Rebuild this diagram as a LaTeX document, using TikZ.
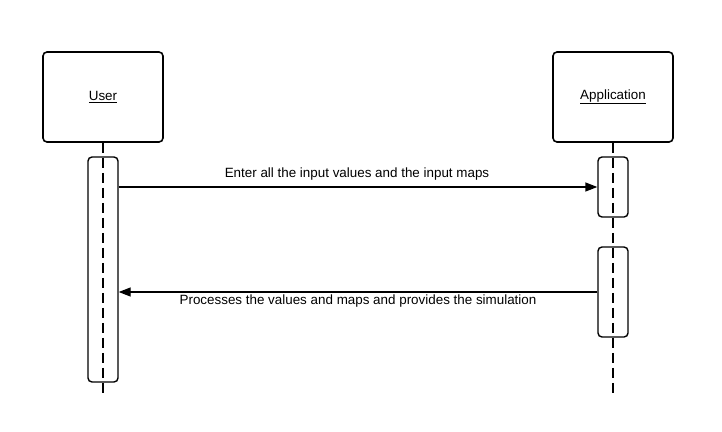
\documentclass[tikz,border=0pt]{standalone}
\usepackage{fontspec}
\setmainfont{Liberation Sans}
\usetikzlibrary{arrows.meta}
\begin{document}
\begin{tikzpicture}[x=1pt,y=-1pt,
  actor/.style={draw,line width=1.6pt,rounded corners=4pt,minimum width=120pt,minimum height=90pt,inner sep=0pt,font=\fontsize{13.4}{16}\selectfont},
  actbar/.style={draw,line width=1.4pt,rounded corners=4pt,minimum width=30pt,inner sep=0pt},
  lifeline/.style={line width=1.6pt,dash pattern=on 10pt off 5pt},
  msg/.style={line width=1.4pt,-{Triangle[length=12pt,width=9pt]}},
  lbl/.style={font=\fontsize{13.4}{16}\selectfont,inner sep=0pt}]
\useasboundingbox (0,0) rectangle (722,431);
\fill[white] (0,0) rectangle (722,431);
\node[actor] (user) at (103,97) {\underline{User}};
\node[actor] (app) at (613,97) {\underline{Application}};
\coordinate (uend) at (103,397);
\coordinate (aend) at (613,397);
\draw[lifeline] (user.south) -- (uend);
\draw[lifeline] (app.south) -- (aend);
\node[actbar,minimum height=225pt] (ubar) at (103,269.5) {};
\node[actbar,minimum height=60pt] (abar1) at (613,187) {};
\node[actbar,minimum height=90pt] (abar2) at (613,292) {};
\coordinate (m1s) at (ubar.east |- 0,187);
\coordinate (m1e) at (abar1.west |- 0,187);
\draw[msg] (m1s) -- (m1e);
\node[lbl] (l1) at (357,174.5) {Enter all the input values and the input maps};
\coordinate (m2s) at (abar2.west |- 0,292);
\coordinate (m2e) at (ubar.east |- 0,292);
\draw[msg] (m2s) -- (m2e);
\node[lbl] (l2) at (358,301.5) {Processes the values and maps and provides the simulation};
\end{tikzpicture}
\end{document}
